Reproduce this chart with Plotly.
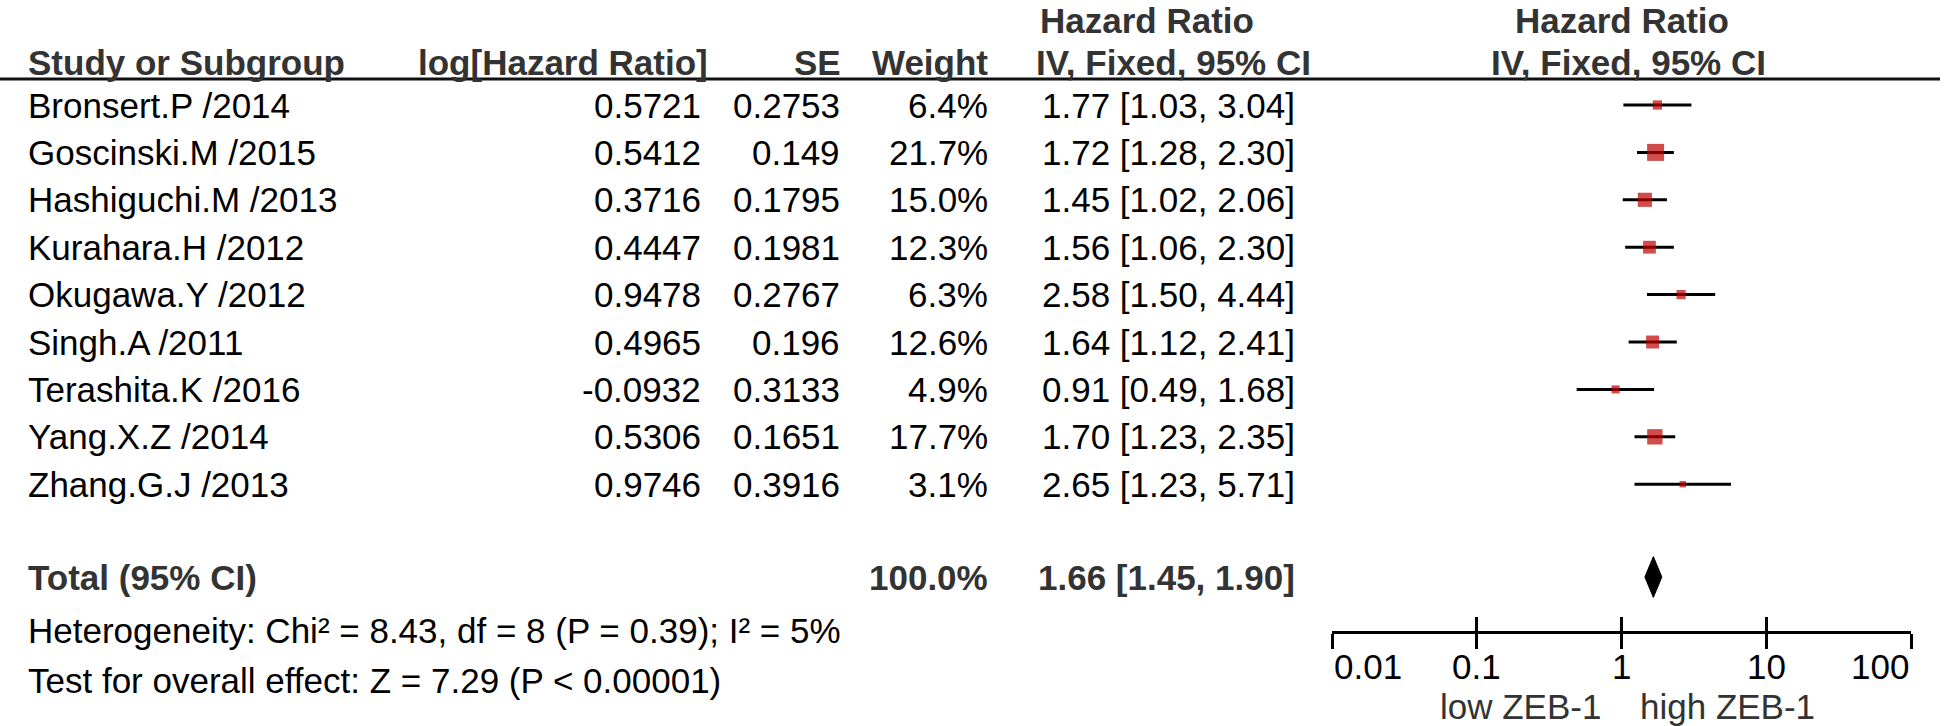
import math
import plotly.graph_objects as go

# ---------------- data ----------------
studies = ["Bronsert.P /2014", "Goscinski.M /2015", "Hashiguchi.M /2013", "Kurahara.H /2012",
           "Okugawa.Y /2012", "Singh.A /2011", "Terashita.K /2016", "Yang.X.Z /2014", "Zhang.G.J /2013"]
log_hr = ["0.5721", "0.5412", "0.3716", "0.4447", "0.9478", "0.4965", "-0.0932", "0.5306", "0.9746"]
se = ["0.2753", "0.149", "0.1795", "0.1981", "0.2767", "0.196", "0.3133", "0.1651", "0.3916"]
weight = [6.4, 21.7, 15.0, 12.3, 6.3, 12.6, 4.9, 17.7, 3.1]
hr = [1.77, 1.72, 1.45, 1.56, 2.58, 1.64, 0.91, 1.70, 2.65]
ci_low = [1.03, 1.28, 1.02, 1.06, 1.50, 1.12, 0.49, 1.23, 1.23]
ci_high = [3.04, 2.30, 2.06, 2.30, 4.44, 2.41, 1.68, 2.35, 5.71]
total_weight = 100.0
total_hr, total_low, total_high = 1.66, 1.45, 1.90
heterogeneity = "Heterogeneity: Chi² = 8.43, df = 8 (P = 0.39); I² = 5%"
overall = "Test for overall effect: Z = 7.29 (P < 0.00001)"
tick_vals = [0.01, 0.1, 1, 10, 100]
tick_text = ["0.01", "0.1", "1", "10", "100"]
favours = ["low ZEB-1", "high ZEB-1"]

# ---------------- layout constants (pixels) ----------------
W, H = 1946, 726
ROW0, ROWH = 105, 47.4          # pixel centre of first study row, row pitch
PLOT_L, PLOT_R = 1332, 1911     # x-axis from 0.01 to 100
AXIS_Y = 631                    # y pixel of the x-axis line
FONT = "Liberation Sans, Arial, sans-serif"
FS = 35
RED = "#C00000"


def ry(px):
    return (px - ROW0) / ROWH


def pxx(px):
    return px / W


def pyp(px):
    return (AXIS_Y - px) / AXIS_Y


rows = list(range(len(studies)))
total_row = ry(577)

fig = go.Figure()

# confidence intervals
cx, cy = [], []
for i in rows:
    cx += [ci_low[i], ci_high[i], None]
    cy += [i, i, None]
fig.add_trace(go.Scatter(x=cx, y=cy, mode="lines", line=dict(color="#000", width=3),
                         hoverinfo="skip", showlegend=False))

# study squares (area proportional to weight)
fig.add_trace(go.Scatter(x=hr, y=rows, mode="markers",
                         marker=dict(symbol="square", color=RED,
                                     size=[3.65 * math.sqrt(w) for w in weight],
                                     line=dict(width=0)),
                         showlegend=False))

# pooled diamond
hh = 0.43
fig.add_trace(go.Scatter(x=[total_low, total_hr, total_high, total_hr, total_low],
                         y=[total_row, total_row - hh, total_row, total_row + hh, total_row],
                         mode="lines", fill="toself", fillcolor="#000",
                         line=dict(color="#000", width=1), showlegend=False))

# invisible trace for the overlaid tick axis
fig.add_trace(go.Scatter(x=[1], y=[0], xaxis="x2", mode="markers",
                         marker=dict(opacity=0), showlegend=False, hoverinfo="skip"))

ann = []


def text(x, y, s, anchor="left", bold=False, color="#000", xref="paper", yref="y", size=FS):
    ann.append(dict(x=x, y=y, xref=xref, yref=yref, text=("<b>%s</b>" % s) if bold else s,
                    showarrow=False, xanchor=anchor, yanchor="middle",
                    font=dict(family=FONT, size=size, color=color)))


HC = "#333"
# headers
text(pxx(26), ry(62), "Study or Subgroup", bold=True, color=HC)
text(pxx(710), ry(62), "log[Hazard Ratio]", "right", True, HC)
text(pxx(843), ry(62), "SE", "right", True, HC)
text(pxx(990), ry(62), "Weight", "right", True, HC)
text(pxx(1038), ry(20), "Hazard Ratio", "left", True, HC)
text(pxx(1034), ry(62), "IV, Fixed, 95% CI", "left", True, HC)
text(pxx(1622), ry(20), "Hazard Ratio", "center", True, HC)
text(pxx(1628), ry(62), "IV, Fixed, 95% CI", "center", True, HC)

# study rows
for i in rows:
    text(pxx(26), i, studies[i])
    text(pxx(703), i, log_hr[i], "right")
    text(pxx(842), i, se[i], "right")
    text(pxx(990), i, "%.1f%%" % weight[i], "right")
    text(pxx(1297), i, "%.2f [%.2f, %.2f]" % (hr[i], ci_low[i], ci_high[i]), "right")

# total
text(pxx(26), total_row, "Total (95% CI)", bold=True, color=HC)
text(pxx(990), total_row, "%.1f%%" % total_weight, "right", True, HC)
text(pxx(1297), total_row, "%.2f [%.2f, %.2f]" % (total_hr, total_low, total_high), "right", True, HC)
text(pxx(26), pyp(630), heterogeneity, yref="paper")
text(pxx(26), pyp(680), overall, yref="paper")

# tick labels
for k, (v, t) in enumerate(zip(tick_vals, tick_text)):
    anchor = "left" if k == 0 else ("right" if k == len(tick_vals) - 1 else "center")
    text(math.log10(v), pyp(666), t, anchor, xref="x", yref="paper")
text(pxx(1603), pyp(706), favours[0], "right", color=HC, yref="paper")
text(pxx(1638), pyp(706), favours[1], "left", color=HC, yref="paper")

shapes = [
    dict(type="line", xref="paper", yref="paper", x0=0, x1=pxx(1940), y0=pyp(79), y1=pyp(79),
         line=dict(color="#111", width=3)),
    dict(type="line", xref="x", yref="paper", x0=0, x1=0, y0=pyp(79), y1=0,
         line=dict(color="#222", width=2)),
]

dom = [PLOT_L / W, PLOT_R / W]
fig.update_layout(
    width=W, height=H, autosize=False,
    margin=dict(l=0, r=0, t=0, b=H - AXIS_Y, pad=0),
    paper_bgcolor="white", plot_bgcolor="white",
    xaxis=dict(type="log", range=[-2, 2], domain=dom, showline=True, linewidth=3, linecolor="#000",
               ticks="outside", ticklen=15, tickwidth=3, tickcolor="#000",
               tickvals=tick_vals, showticklabels=False, showgrid=False, zeroline=False,
               fixedrange=True),
    xaxis2=dict(type="log", range=[-2, 2], domain=dom, overlaying="x", anchor="y", side="bottom",
                ticks="inside", ticklen=14, tickwidth=3, tickcolor="#000",
                tickvals=tick_vals, showticklabels=False, showgrid=False, zeroline=False,
                showline=False, fixedrange=True),
    yaxis=dict(range=[ry(AXIS_Y), ry(0)], visible=False, fixedrange=True),
    annotations=ann, shapes=shapes,
    showlegend=False,
)

fig.write_html("out.html", post_script="document.body.style.margin='0';",
               config={"displayModeBar": False})
